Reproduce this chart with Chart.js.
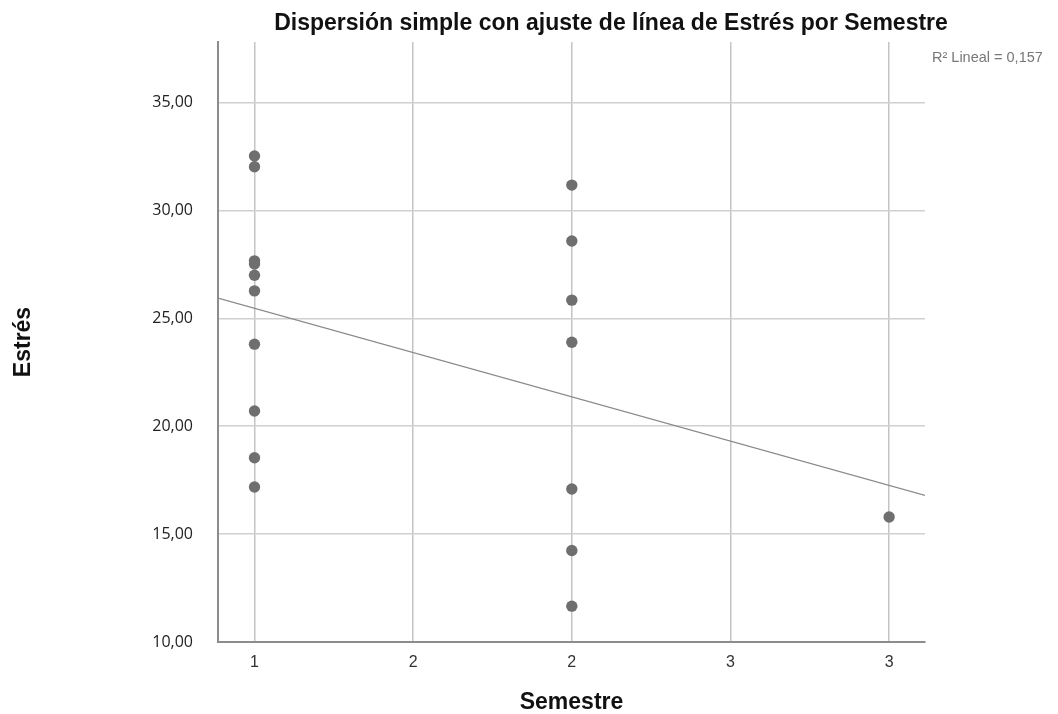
<!DOCTYPE html>
<html>
<head>
<meta charset="utf-8">
<script src="https://cdn.jsdelivr.net/npm/chart.js@4/dist/chart.umd.min.js"></script>
<style>
  body { margin: 0; background: #fff; }
  canvas { display: block; }
</style>
</head>
<body>
<canvas id="scatter" width="1058" height="714"></canvas>
<script>
// data
const semestre = [1,1,1,1,1,1,1,1,1,1, 2,2,2,2,2,2,2, 3];
const estres = [32.52,32.02,27.66,27.51,26.99,26.27,23.80,20.70,18.54,17.18,
                31.17,28.58,25.84,23.89,17.09,14.24,11.66, 15.79];
const xRange = [0.885, 3.113];
const yRange = [10, 37.8];
const chartTitle = 'Dispersión simple con ajuste de línea de Estrés por Semestre';
const fitLabel = 'R² Lineal = 0,157';

// least squares fit line
function fitLine(xs, ys){
  const n = xs.length;
  const mx = xs.reduce((a,b)=>a+b,0)/n;
  const my = ys.reduce((a,b)=>a+b,0)/n;
  let sxy = 0, sxx = 0;
  for (let i=0;i<n;i++){ sxy += (xs[i]-mx)*(ys[i]-my); sxx += (xs[i]-mx)**2; }
  const b = sxy/sxx;
  return x => my + b*(x-mx);
}
const f = fitLine(semestre, estres);
const fitPts = xRange.map(x => ({x, y: f(x)}));

const extraText = {
  id: 'extraText',
  afterDraw(chart){
    const c = chart.ctx;
    c.save();
    c.fillStyle = '#111';
    c.font = 'bold 23px "Liberation Sans", Arial, sans-serif';
    c.textAlign = 'center';
    c.textBaseline = 'middle';
    c.fillText(chartTitle, 611, 24);
    c.fillStyle = '#777';
    c.font = '14.5px "Liberation Sans", Arial, sans-serif';
    c.textAlign = 'left';
    c.fillText(fitLabel, 932, 58);
    c.restore();
  }
};

new Chart(document.getElementById('scatter').getContext('2d'), {
  type: 'scatter',
  data: {
    datasets: [
      {label:'Estrés', data: semestre.map((x,i)=>({x, y: estres[i]})),
       backgroundColor:'#6f6f6f', borderWidth:0, pointRadius:5.7},
      {type:'line', label:'Ajuste', data: fitPts, borderColor:'#8a8a8a',
       borderWidth:1.2, pointRadius:0, fill:false}
    ]
  },
  plugins: [extraText],
  options: {
    responsive: false,
    animation: false,
    layout: {padding: {top:42, right:133, bottom:0, left:0}},
    plugins: {legend:{display:false}, tooltip:{enabled:false}},
    scales: {
      x: {
        type:'linear', min:xRange[0], max:xRange[1],
        afterFit(s){ s.height = 72; },
        ticks:{stepSize:0.5, includeBounds:false, padding:11, color:'#333',
               font:{family:'"Liberation Sans", Arial', size:16},
               callback: v => String(Math.round(v))},
        grid:{color:'#c4c4c4', lineWidth:1.5, drawTicks:false},
        border:{color:'#8c8c8c', width:2},
        title:{display:true, text:'Semestre', color:'#111', padding:0,
               font:{family:'"Liberation Sans", Arial', size:23, weight:'bold', lineHeight:1}}
      },
      y: {
        min:yRange[0], max:yRange[1],
        afterFit(s){ s.width = 218; },
        ticks:{stepSize:5, includeBounds:false, padding:25, color:'#222',
               font:{family:'"Open Sans", sans-serif', size:16},
               callback: v => v.toFixed(2).replace('.', ',')},
        grid:{color:'#d0d0d0', lineWidth:1.5, drawTicks:false},
        border:{color:'#8c8c8c', width:2},
        title:{display:true, text:'Estrés', color:'#111', padding:{top:12, bottom:0},
               font:{family:'"Liberation Sans", Arial', size:23, weight:'bold', lineHeight:1}}
      }
    }
  }
});
</script>
</body>
</html>
